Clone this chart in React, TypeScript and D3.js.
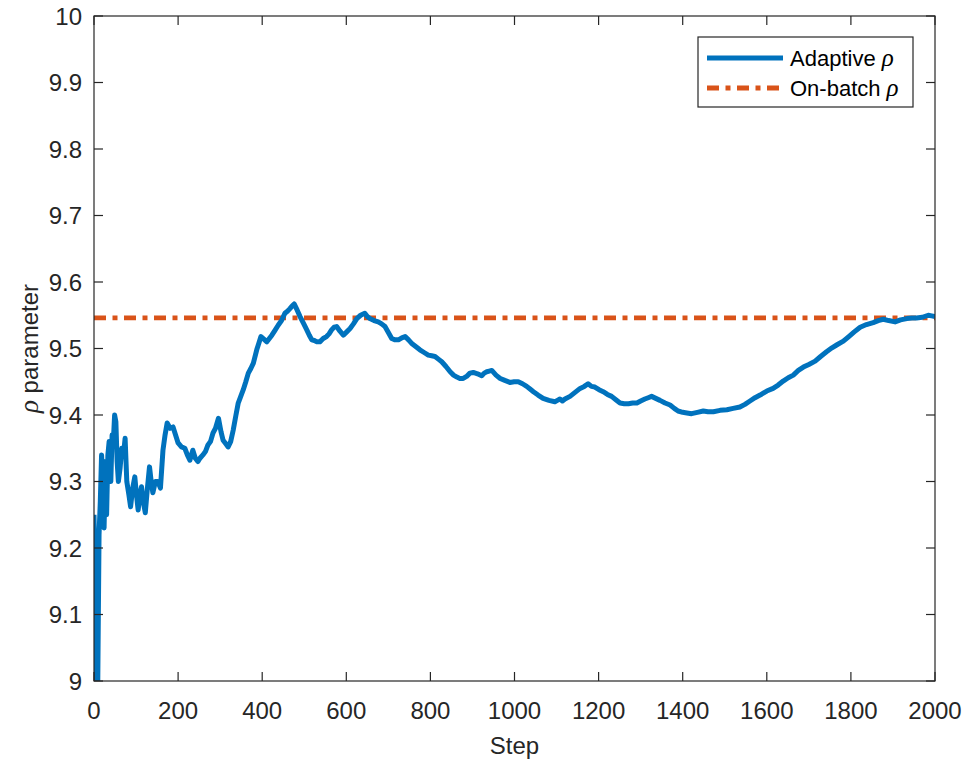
import * as d3 from 'd3'

// step / value pairs
const steps = [0, 2, 4, 6, 9, 12, 15, 18, 21, 24, 27, 30, 33, 36, 40, 43, 46, 49, 52, 55, 58, 62, 66, 70, 74, 78, 83, 87, 92, 97, 101, 105, 109, 113, 117, 122, 127, 132, 136, 140, 146, 152, 158, 164, 169, 174, 181, 188, 194, 200, 208, 216, 222, 228, 235, 241, 247, 252, 259, 265, 271, 277, 283, 289, 296, 302, 307, 313, 319, 325, 331, 337, 343, 349, 355, 361, 367, 373, 379, 387, 392, 397, 404, 411, 417, 423, 430, 438, 446, 454, 460, 466, 471, 476, 483, 490, 498, 506, 512, 518, 524, 530, 537, 545, 553, 559, 565, 571, 577, 585, 593, 601, 609, 617, 625, 634, 644, 650, 656, 666, 676, 684, 692, 700, 708, 716, 724, 732, 740, 748, 755, 765, 775, 785, 795, 803, 811, 819, 827, 837, 847, 855, 863, 870, 878, 886, 894, 902, 912, 922, 928, 934, 940, 946, 956, 966, 977, 989, 999, 1009, 1019, 1029, 1037, 1045, 1056, 1068, 1082, 1096, 1102, 1108, 1114, 1120, 1132, 1144, 1156, 1166, 1175, 1183, 1191, 1201, 1211, 1221, 1231, 1241, 1251, 1261, 1271, 1281, 1291, 1300, 1310, 1318, 1326, 1336, 1346, 1358, 1370, 1380, 1389, 1400, 1410, 1421, 1435, 1449, 1460, 1473, 1489, 1505, 1520, 1536, 1548, 1560, 1572, 1584, 1600, 1615, 1627, 1639, 1651, 1663, 1675, 1687, 1700, 1715, 1728, 1742, 1755, 1768, 1782, 1795, 1808, 1822, 1837, 1853, 1865, 1877, 1890, 1905, 1918, 1933, 1945, 1956, 1970, 1984, 1992, 2000]
const adaptiveRho = [9.25, 9.18, 9.05, 9.0, 9.0, 9.22, 9.27, 9.34, 9.30, 9.23, 9.33, 9.25, 9.34, 9.36, 9.30, 9.37, 9.36, 9.40, 9.39, 9.33, 9.30, 9.32, 9.35, 9.34, 9.365, 9.30, 9.28, 9.262, 9.29, 9.307, 9.28, 9.257, 9.28, 9.292, 9.27, 9.253, 9.29, 9.322, 9.30, 9.283, 9.30, 9.30, 9.29, 9.347, 9.37, 9.388, 9.38, 9.382, 9.37, 9.358, 9.352, 9.35, 9.34, 9.332, 9.347, 9.335, 9.33, 9.335, 9.34, 9.345, 9.355, 9.36, 9.373, 9.38, 9.395, 9.375, 9.362, 9.357, 9.352, 9.36, 9.377, 9.398, 9.418, 9.428, 9.438, 9.45, 9.463, 9.47, 9.478, 9.498, 9.508, 9.518, 9.514, 9.51, 9.515, 9.52, 9.527, 9.535, 9.542, 9.553, 9.556, 9.56, 9.564, 9.567, 9.558, 9.548, 9.538, 9.528, 9.52, 9.513, 9.512, 9.51, 9.51, 9.515, 9.518, 9.522, 9.528, 9.532, 9.533, 9.526, 9.52, 9.525, 9.53, 9.537, 9.545, 9.55, 9.553, 9.548, 9.545, 9.542, 9.54, 9.537, 9.533, 9.524, 9.515, 9.513, 9.513, 9.516, 9.518, 9.513, 9.508, 9.503, 9.498, 9.494, 9.49, 9.489, 9.488, 9.484, 9.48, 9.473, 9.465, 9.46, 9.457, 9.455, 9.455, 9.458, 9.463, 9.464, 9.462, 9.459, 9.463, 9.465, 9.466, 9.467, 9.46, 9.455, 9.452, 9.449, 9.45, 9.45, 9.447, 9.443, 9.439, 9.435, 9.43, 9.425, 9.422, 9.42, 9.422, 9.424, 9.421, 9.424, 9.428, 9.434, 9.44, 9.443, 9.447, 9.443, 9.442, 9.438, 9.435, 9.431, 9.428, 9.423, 9.418, 9.417, 9.417, 9.418, 9.418, 9.421, 9.424, 9.426, 9.428, 9.425, 9.422, 9.418, 9.415, 9.41, 9.406, 9.404, 9.403, 9.402, 9.404, 9.406, 9.405, 9.405, 9.407, 9.408, 9.41, 9.412, 9.416, 9.421, 9.426, 9.43, 9.436, 9.44, 9.445, 9.451, 9.456, 9.46, 9.467, 9.472, 9.476, 9.481, 9.488, 9.495, 9.501, 9.506, 9.511, 9.518, 9.525, 9.532, 9.536, 9.539, 9.542, 9.544, 9.542, 9.54, 9.543, 9.545, 9.546, 9.546, 9.547, 9.55, 9.549, 9.548]
const onBatchRho = 9.546

const xTicks = [0, 200, 400, 600, 800, 1000, 1200, 1400, 1600, 1800, 2000]
const yTicks = [9, 9.1, 9.2, 9.3, 9.4, 9.5, 9.6, 9.7, 9.8, 9.9, 10]

const blue = '#0072BD'
const orange = '#D95319'
const axisColor = '#262626'
const font = '"Liberation Sans", Arial, Helvetica, sans-serif'
const greek = '"Liberation Serif", serif'
const dash = '12,6.5,5,6.5'

export default function App(){
  const width = 976, height = 761
  const m = { left: 94, right: 41, top: 16, bottom: 80 }
  const innerW = width - m.left - m.right
  const innerH = height - m.top - m.bottom

  const x = d3.scaleLinear().domain([0, 2000]).range([0, innerW])
  const y = d3.scaleLinear().domain([9, 10]).range([innerH, 0])

  const pts: [number, number][] = steps.map((s, i)=> [s, adaptiveRho[i]])
  const line = d3.line<[number, number]>().x(d=> x(d[0])).y(d=> y(d[1]))
  const tk = 9

  return (
    <svg width={width} height={height} style={{ position: 'absolute', left: 0, top: 0, background: '#fff' }} fontFamily={font}>
      <defs>
        <clipPath id="plot"><rect x={0} y={-3} width={innerW} height={innerH + 3} /></clipPath>
      </defs>
      <g transform={`translate(${m.left},${m.top})`}>
        <g clipPath="url(#plot)">
          <line x1={0} x2={innerW} y1={y(onBatchRho)} y2={y(onBatchRho)} stroke={orange} strokeWidth={4.8} strokeDasharray={dash} />
          <path d={line(pts) ?? ''} fill="none" stroke={blue} strokeWidth={5} strokeLinejoin="round" />
        </g>

        {/* box and ticks */}
        <rect x={0} y={0} width={innerW} height={innerH} fill="none" stroke={axisColor} strokeWidth={1.2} />
        {xTicks.map(t=> (
          <g key={'x'+t}>
            <line x1={x(t)} x2={x(t)} y1={innerH} y2={innerH - tk} stroke={axisColor} strokeWidth={1.2} />
            <line x1={x(t)} x2={x(t)} y1={0} y2={tk} stroke={axisColor} strokeWidth={1.2} />
            <text x={x(t)} y={innerH + 38} textAnchor="middle" fontSize={24} fill={axisColor}>{t}</text>
          </g>
        ))}
        {yTicks.map(t=> (
          <g key={'y'+t}>
            <line x1={0} x2={tk} y1={y(t)} y2={y(t)} stroke={axisColor} strokeWidth={1.2} />
            <line x1={innerW} x2={innerW - tk} y1={y(t)} y2={y(t)} stroke={axisColor} strokeWidth={1.2} />
            <text x={-12} y={y(t) + 8.5} textAnchor="end" fontSize={24} fill={axisColor}>{d3.format('~g')(t)}</text>
          </g>
        ))}

        <text x={innerW / 2} y={innerH + 73} textAnchor="middle" fontSize={24} fill={axisColor}>Step</text>
        <text transform={`translate(${-56},${innerH / 2}) rotate(-90)`} textAnchor="middle" fontSize={24} fill={axisColor}>
          <tspan fontFamily={greek} fontStyle="italic" fontSize={27}>ρ</tspan> parameter
        </text>

        {/* legend */}
        <g transform={`translate(${698 - m.left},${37 - m.top})`}>
          <rect x={0} y={0} width={215} height={70} fill="#fff" stroke={axisColor} strokeWidth={1.2} />
          <line x1={9} x2={85} y1={21} y2={21} stroke={blue} strokeWidth={5} />
          <text x={92} y={29} fontSize={22} fill="#000">Adaptive <tspan fontFamily={greek} fontStyle="italic" fontSize={25}>ρ</tspan></text>
          <line x1={9} x2={85} y1={51} y2={51} stroke={orange} strokeWidth={4.8} strokeDasharray={dash} />
          <text x={92} y={59} fontSize={22} fill="#000">On-batch <tspan fontFamily={greek} fontStyle="italic" fontSize={25}>ρ</tspan></text>
        </g>
      </g>
    </svg>
  )
}
